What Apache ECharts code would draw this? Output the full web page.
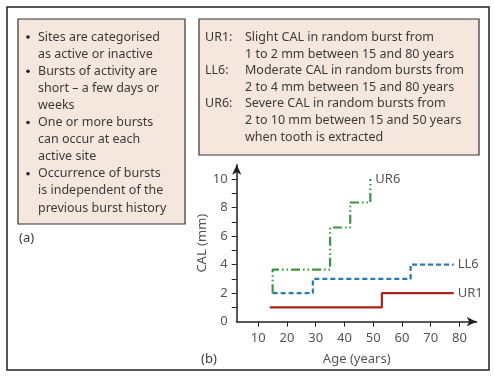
<!DOCTYPE html>
<html>
<head>
<meta charset="utf-8">
<script src="https://cdn.jsdelivr.net/npm/echarts@6/dist/echarts.min.js"></script>
<style>
  html, body { margin: 0; padding: 0; background: #fff; }
  #chart { width: 494px; height: 376px; }
</style>
</head>
<body>
<div id="chart"></div>
<script>
// step data (age in years, CAL in mm)
var ur1Age = [14, 53, 53, 78];
var ur1Cal = [1, 1, 2, 2];
var ll6Age = [15, 29, 29, 63, 63, 78];
var ll6Cal = [2, 2, 3, 3, 4, 4];
var ur6Age = [15, 15, 35, 35, 42, 42, 49, 49];
var ur6Cal = [2, 3.65, 3.65, 6.6, 6.6, 8.35, 8.35, 10];

var xTicks = [10, 20, 30, 40, 50, 60, 70, 80];
var yTicks = [1, 2, 3, 4, 5, 6, 7, 8, 9, 10];
var yLabels = [0, 2, 4, 6, 8, 10];

var leftLines = [
  "Sites are categorised", "as active or inactive",
  "Bursts of activity are", "short \u2013 a few days or", "weeks",
  "One or more bursts", "can occur at each", "active site",
  "Occurrence of bursts", "is independent of the", "previous burst history"
];
var bulletRows = [0, 2, 5, 8];

var rightKeys = ["UR1:", "", "LL6:", "", "UR6:", "", ""];
var rightLines = [
  "Slight CAL in random burst from", "1 to 2 mm between 15 and 80 years",
  "Moderate CAL in random bursts from", "2 to 4 mm between 15 and 80 years",
  "Severe CAL in random bursts from", "2 to 10 mm between 15 and 50 years",
  "when tooth is extracted"
];

function pairs(xs, ys) {
  return xs.map(function (x, i) { return [x, ys[i]]; });
}

var font = "Noto Sans";
var txt = "#3a3a3a";

var graphics = [
  { type: "rect", shape: { x: 7, y: 7, width: 482, height: 363 },
    style: { fill: "none", stroke: "#222", lineWidth: 1.5 } },
  { type: "rect", shape: { x: 18, y: 19, width: 167, height: 205 },
    style: { fill: "#f6e7de", stroke: "#333", lineWidth: 1.2 } },
  { type: "rect", shape: { x: 199, y: 19, width: 280, height: 136 },
    style: { fill: "#f6e7de", stroke: "#333", lineWidth: 1.2 } },
  { type: "text", x: 19, y: 238,
    style: { text: "(a)", fill: txt, font: "13px " + font, verticalAlign: "middle" } },
  { type: "text", x: 201, y: 359,
    style: { text: "(b)", fill: txt, font: "13px " + font, verticalAlign: "middle" } }
];

leftLines.forEach(function (s, i) {
  var y = 37 + i * 17.1;
  graphics.push({ type: "text", x: 38, y: y,
    style: { text: s, fill: txt, font: "12.5px " + font, verticalAlign: "middle" } });
  if (bulletRows.indexOf(i) >= 0) {
    graphics.push({ type: "circle", shape: { cx: 28, cy: y, r: 1.8 },
      style: { fill: "#222" } });
  }
});

rightLines.forEach(function (s, i) {
  var y = 37.5 + i * 16.6;
  graphics.push({ type: "text", x: 245, y: y,
    style: { text: s, fill: txt, font: "12.5px " + font, verticalAlign: "middle" } });
  if (rightKeys[i]) {
    graphics.push({ type: "text", x: 205, y: y,
      style: { text: rightKeys[i], fill: txt, font: "12.5px " + font, verticalAlign: "middle" } });
  }
});

var myChart = echarts.init(document.getElementById("chart"));
myChart.setOption({
  animation: false,
  textStyle: { fontFamily: font },
  grid: { left: 236.7, top: 164.7, right: 17.3, bottom: 54.3 },
  xAxis: {
    type: "value",
    min: 2.5,
    max: 86,
    name: "Age (years)",
    nameLocation: "middle",
    nameGap: 31,
    nameTextStyle: { color: "#555", fontSize: 13 },
    axisLine: {
      show: true,
      symbol: ["none", "arrow"],
      symbolSize: [7, 10],
      lineStyle: { color: "#222", width: 1.5 }
    },
    axisTick: { show: true, customValues: xTicks, length: 5, lineStyle: { color: "#222" } },
    axisLabel: { customValues: xTicks, color: "#555", fontSize: 13, margin: 10 },
    splitLine: { show: false }
  },
  yAxis: {
    type: "value",
    min: 0,
    max: 11,
    name: "CAL (mm)",
    nameLocation: "middle",
    nameGap: 27,
    nameTextStyle: { color: "#555", fontSize: 13 },
    axisLine: {
      show: true,
      symbol: ["none", "arrow"],
      symbolSize: [7, 10],
      lineStyle: { color: "#222", width: 1.5 }
    },
    axisTick: { show: true, customValues: yTicks, length: 5, lineStyle: { color: "#222" } },
    axisLabel: { customValues: yLabels, color: "#555", fontSize: 13, margin: 9 },
    splitLine: { show: false }
  },
  series: [
    {
      name: "UR1",
      type: "line",
      data: pairs(ur1Age, ur1Cal),
      showSymbol: false,
      lineStyle: { color: "#a8231a", width: 2.2 },
      endLabel: { show: true, formatter: "{a}", color: "#555", fontSize: 13, distance: 4 }
    },
    {
      name: "LL6",
      type: "line",
      data: pairs(ll6Age, ll6Cal),
      showSymbol: false,
      lineStyle: { color: "#2b78b5", width: 2.2, type: [5, 3] },
      endLabel: { show: true, formatter: "{a}", color: "#555", fontSize: 13, distance: 4 }
    },
    {
      name: "UR6",
      type: "line",
      data: pairs(ur6Age, ur6Cal),
      showSymbol: false,
      lineStyle: { color: "#3a9640", width: 2.2, type: [9, 3, 1.5, 3, 1.5, 3] },
      endLabel: { show: true, formatter: "{a}", color: "#555", fontSize: 13, distance: 5 }
    }
  ],
  graphic: graphics
});
window.addEventListener("resize", function () {
  myChart.resize();
});
</script>
</body>
</html>
